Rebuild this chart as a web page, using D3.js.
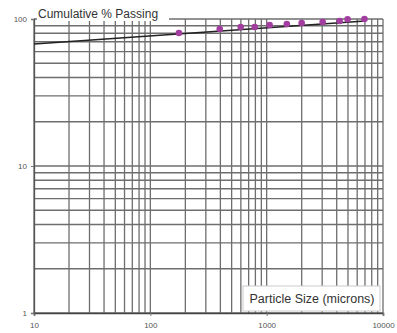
<!DOCTYPE html>
<html>
<head>
<meta charset="utf-8">
<script src="https://cdn.jsdelivr.net/npm/d3@7"></script>
<style>
  body { margin: 0; background: #fff; }
  svg { display: block; font-family: "Liberation Sans", Arial, sans-serif; }
</style>
</head>
<body>
<div id="chart-area"></div>
<script>
// sieve data
const sizes = [176, 395, 598, 789, 1060, 1490, 2000, 3030, 4240, 4960, 6930];
const passing = [80.3, 85.5, 88.3, 88.3, 91.0, 92.4, 93.9, 95.4, 96.9, 99.5, 100];

// fitted line end points
const fitSizes = [10, 7000];
const fitPassing = [67.6, 96.9];

const xTicks = [10, 100, 1000, 10000];
const yTicks = [1, 10, 100];

const W = 397, H = 333;
const margin = { top: 19, right: 14, bottom: 20, left: 34 };
const width = W - margin.left - margin.right;
const height = H - margin.top - margin.bottom;

const svg = d3.select('#chart-area').append('svg')
  .attr('width', W)
  .attr('height', H);

const g = svg.append('g')
  .attr('transform', `translate(${margin.left}, ${margin.top})`);

const x = d3.scaleLog().domain([10, 10000]).range([0, width]);
const y = d3.scaleLog().domain([1, 100]).range([height, 0]);

// grid lines at every 1..9 per decade
const xGrid = x.ticks();
const yGrid = y.ticks();

g.append('g').selectAll('line')
  .data(xGrid)
  .enter().append('line')
  .attr('x1', d => x(d)).attr('x2', d => x(d))
  .attr('y1', 0).attr('y2', height)
  .attr('stroke', '#6e6e6e')
  .attr('stroke-width', 1.3);

g.append('g').selectAll('line')
  .data(yGrid)
  .enter().append('line')
  .attr('x1', 0).attr('x2', width)
  .attr('y1', d => y(d)).attr('y2', d => y(d))
  .attr('stroke', '#6e6e6e')
  .attr('stroke-width', 1.3);

// axes
const xAxis = d3.axisBottom(x).tickValues(xTicks).tickSize(3).tickFormat(d3.format('d'));
const xAxisGroup = g.append('g')
  .attr('transform', `translate(0, ${height})`)
  .call(xAxis);
xAxisGroup.select('.domain').attr('stroke', '#444').attr('stroke-width', 1.6);
xAxisGroup.selectAll('line').attr('stroke', '#777');
xAxisGroup.selectAll('text')
  .attr('y', 9)
  .attr('font-size', '8px')
  .attr('fill', '#555')
  .attr('font-family', '"Liberation Sans", Arial, sans-serif');

const yAxis = d3.axisLeft(y).tickValues(yTicks).tickSize(3).tickFormat(d3.format('d'));
const yAxisGroup = g.append('g').call(yAxis);
yAxisGroup.select('.domain').attr('stroke', '#555').attr('stroke-width', 1.3);
yAxisGroup.selectAll('line').attr('stroke', '#777');
yAxisGroup.selectAll('text')
  .attr('x', -7)
  .attr('font-size', '8px')
  .attr('fill', '#555')
  .attr('font-family', '"Liberation Sans", Arial, sans-serif');

// fitted line
const fit = fitSizes.map((s, i) => ({ s: s, p: fitPassing[i] }));
g.append('path')
  .datum(fit)
  .attr('fill', 'none')
  .attr('stroke', '#222')
  .attr('stroke-width', 1.5)
  .attr('d', d3.line().x(d => x(d.s)).y(d => y(d.p)));

// data points
const pts = sizes.map((s, i) => ({ s: s, p: passing[i] }));
g.selectAll('circle')
  .data(pts)
  .enter().append('circle')
  .attr('cx', d => x(d.s))
  .attr('cy', d => y(d.p))
  .attr('r', 3.3)
  .attr('fill', '#a23ea0');

// title label with white backing over the top border
g.append('rect')
  .attr('x', 3).attr('y', -12)
  .attr('width', 132).attr('height', 14)
  .attr('fill', '#fff');
g.append('text')
  .attr('x', 4)
  .attr('y', -1)
  .attr('font-size', '12px')
  .attr('fill', '#333')
  .text('Cumulative % Passing');

// x label box
g.append('rect')
  .attr('x', 209).attr('y', height - 27)
  .attr('width', 137).attr('height', 25)
  .attr('fill', '#fff')
  .attr('stroke', '#ccc')
  .attr('stroke-width', 1);
g.append('text')
  .attr('x', 278)
  .attr('y', height - 10)
  .attr('text-anchor', 'middle')
  .attr('font-size', '12.5px')
  .attr('fill', '#333')
  .text('Particle Size (microns)');
</script>
</body>
</html>
